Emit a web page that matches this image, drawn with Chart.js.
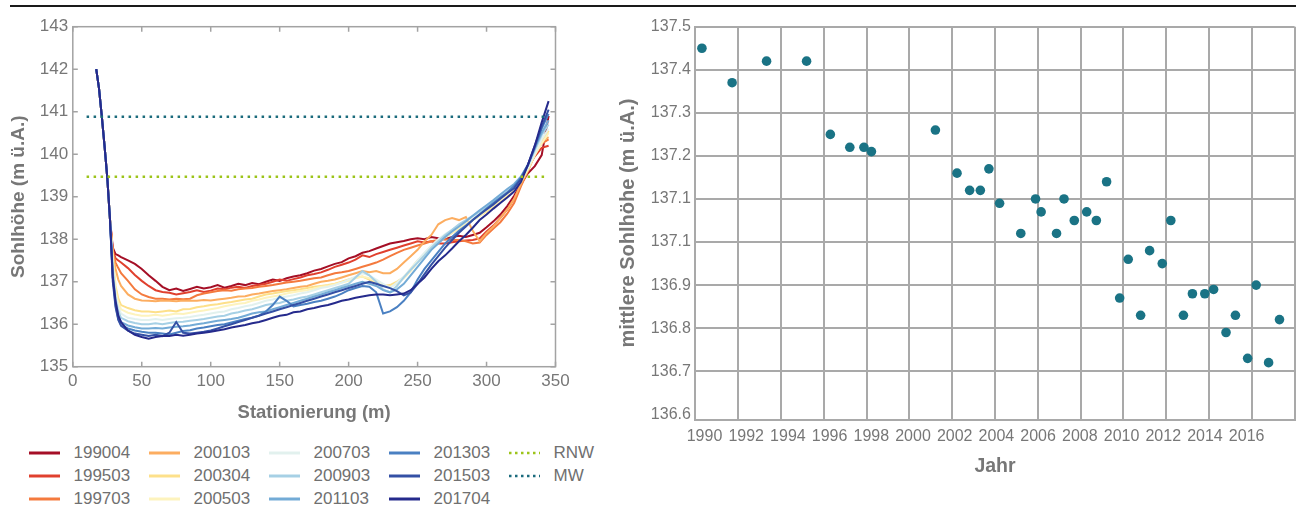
<!DOCTYPE html>
<html><head><meta charset="utf-8">
<script src="https://cdn.jsdelivr.net/npm/chart.js@4.4.1/dist/chart.umd.min.js"></script>
<style>
html,body{margin:0;padding:0;background:#fff;width:1296px;height:507px;overflow:hidden;font-family:'Liberation Sans',Arial,Helvetica,sans-serif;position:relative;}
#topline{position:absolute;left:10px;top:5px;width:1286px;height:2px;background:#1a1a1a;}
#cL{position:absolute;left:0;top:0;}
#cR{position:absolute;left:610px;top:0;}
#legend{position:absolute;left:0;top:0;width:0;height:0;}
.lt{position:absolute;font-size:17px;line-height:20px;color:#707070;white-space:nowrap;}
.ls{position:absolute;}
</style></head><body>
<div id="topline"></div>
<canvas id="cL" width="600" height="440"></canvas>
<canvas id="cR" width="690" height="490"></canvas>
<div id="legend"></div>
<script>
const TXT = '#777777';
const FAM = "'Liberation Sans', Arial, Helvetica, sans-serif";

// ---------- left chart data ----------
const stations = [17,19,21,23,25,27,29,31,33,35,
  40,45,50,55,60,65,70,75,80,85,
  90,95,100,105,110,115,120,125,130,135,
  140,145,150,155,160,165,170,175,180,185,
  190,195,200,205,210,215,220,225,230,235,
  240,245,250,255,260,265,270,275,280,285,
  290,295,300,305,310,315,320,325,330,335,
  340,345];

const profileNames = ['199004','199503','199703','200103','200304','200503','200703','200903','201103','201303','201503','201704'];
const profileColors = ['#a50f26','#e0402e','#f47a3e','#fcad60','#fde08a','#fdf3bd','#e2f1ee','#a6d0e5','#73abd6','#4a80c2','#3450a5','#252a8c'];

const s199004 = [142.0,141.55,140.9,140.2,139.45,138.45,137.8,137.65,137.62,137.58,
  137.5,137.42,137.3,137.15,137.02,136.88,136.8,136.84,136.78,136.83,
  136.88,136.84,136.87,136.92,136.86,136.9,136.95,136.92,136.97,136.94,
  137.0,137.05,137.02,137.08,137.12,137.15,137.2,137.26,137.3,137.36,
  137.42,137.46,137.55,137.6,137.68,137.72,137.78,137.84,137.9,137.93,
  137.96,138.0,138.02,138.0,138.05,138.02,138.0,138.05,138.08,138.05,
  138.1,138.15,138.28,138.42,138.58,138.78,139.02,139.3,139.55,139.72,
  139.98,140.9];
const s199503 = [142.0,141.55,140.9,140.2,139.45,138.45,137.75,137.55,137.5,137.45,
  137.32,137.16,137.02,136.9,136.8,136.76,136.74,136.7,136.73,136.76,
  136.8,136.76,136.79,136.84,136.82,136.86,136.88,136.85,136.9,136.92,
  136.95,137.0,137.05,137.02,137.06,137.1,137.15,137.18,137.22,137.28,
  137.35,137.4,137.45,137.52,137.62,137.58,137.65,137.7,137.75,137.8,
  137.85,137.9,137.95,137.92,137.95,137.9,137.9,137.93,137.95,137.97,
  137.98,138.02,138.18,138.32,138.5,138.7,138.95,139.32,139.68,139.95,
  140.15,140.2];
const s199703 = [142.0,141.55,140.9,140.2,139.45,138.45,137.7,137.45,137.32,137.2,
  137.02,136.82,136.7,136.64,136.6,136.6,136.58,136.6,136.59,136.6,
  136.68,136.72,136.75,136.78,136.8,136.79,136.82,136.84,136.85,136.88,
  136.9,136.92,136.95,136.98,137.0,137.02,137.05,137.08,137.1,137.15,
  137.2,137.22,137.25,137.3,137.35,137.4,137.45,137.52,137.6,137.68,
  137.75,137.8,137.85,137.9,137.95,137.98,138.0,137.98,137.98,137.95,
  137.9,137.92,138.1,138.25,138.4,138.6,138.85,139.25,139.6,140.0,
  140.25,140.35];
const s200103 = [142.0,141.55,140.9,140.2,139.45,138.45,137.65,137.3,137.05,136.9,
  136.7,136.6,136.56,136.55,136.54,136.56,136.55,136.54,136.56,136.55,
  136.55,136.57,136.56,136.58,136.6,136.62,136.65,136.66,136.7,136.72,
  136.75,136.78,136.8,136.82,136.85,136.88,136.9,136.95,137.0,137.02,
  137.05,137.1,137.15,137.2,137.25,137.22,137.25,137.2,137.2,137.3,
  137.45,137.6,137.75,137.95,138.1,138.35,138.45,138.5,138.45,138.52,
  138.2,137.95,138.15,138.3,138.5,138.7,138.95,139.3,139.65,140.1,
  140.3,140.4];
const s200304 = [142.0,141.55,140.9,140.2,139.45,138.45,137.6,136.9,136.6,136.45,
  136.38,136.33,136.3,136.3,136.28,136.3,136.32,136.3,136.35,136.36,
  136.4,136.42,136.45,136.47,136.5,136.52,136.55,136.58,136.6,136.65,
  136.7,136.72,136.75,136.78,136.8,136.82,136.85,136.88,136.9,136.92,
  136.95,137.0,137.05,137.1,137.12,137.05,136.95,136.9,136.92,137.0,
  137.1,137.3,137.5,137.65,137.8,137.95,138.05,138.15,138.25,138.35,
  138.45,138.55,138.65,138.78,138.9,139.02,139.15,139.35,139.62,139.98,
  140.3,140.55];
const s200503 = [142.0,141.55,140.9,140.2,139.45,138.45,137.5,136.8,136.5,136.35,
  136.27,136.23,136.2,136.2,136.22,136.2,136.22,136.25,136.24,136.27,
  136.3,136.32,136.35,136.38,136.42,136.45,136.48,136.5,136.55,136.58,
  136.62,136.65,136.68,136.72,136.75,136.78,136.8,136.84,136.88,136.9,
  136.94,136.98,137.02,137.08,137.12,137.08,137.0,136.92,136.88,136.95,
  137.08,137.25,137.45,137.62,137.78,137.92,138.05,138.15,138.25,138.35,
  138.45,138.55,138.68,138.8,138.92,139.05,139.18,139.38,139.65,139.98,
  140.25,140.5];
const s200703 = [142.0,141.55,140.9,140.2,139.45,138.45,137.4,136.7,136.4,136.25,
  136.15,136.12,136.1,136.1,136.12,136.1,136.12,136.14,136.15,136.17,
  136.2,136.22,136.25,136.28,136.3,136.35,136.38,136.42,136.45,136.5,
  136.55,136.58,136.62,136.65,136.68,136.72,136.75,136.8,136.85,136.88,
  136.92,136.98,137.05,137.12,137.2,137.15,137.05,136.95,136.85,136.98,
  137.12,137.3,137.5,137.68,137.85,138.0,138.12,138.22,138.32,138.42,
  138.52,138.62,138.72,138.84,138.96,139.08,139.2,139.4,139.68,140.02,
  140.35,140.6];
const s200903 = [142.0,141.55,140.9,140.2,139.45,138.45,137.3,136.6,136.3,136.15,
  136.07,136.03,136.0,136.0,136.02,136.0,136.03,136.05,136.06,136.08,
  136.1,136.12,136.15,136.18,136.2,136.25,136.28,136.32,136.35,136.4,
  136.45,136.48,136.5,136.55,136.58,136.62,136.65,136.7,136.75,136.8,
  136.85,136.9,136.95,137.1,137.25,137.15,137.0,136.82,136.75,136.9,
  137.1,137.28,137.45,137.62,137.8,137.95,138.1,138.22,138.35,138.45,
  138.55,138.65,138.75,138.88,139.0,139.12,139.25,139.45,139.72,140.1,
  140.45,140.7];
const s201103 = [142.0,141.55,140.9,140.2,139.45,138.45,137.2,136.5,136.2,136.05,
  135.97,135.93,135.9,135.9,135.91,135.9,135.92,135.94,135.95,135.97,
  136.0,136.02,136.05,136.08,136.1,136.12,136.15,136.2,136.25,136.28,
  136.3,136.35,136.4,136.45,136.5,136.55,136.6,136.65,136.7,136.75,
  136.8,136.85,136.9,136.95,137.0,136.95,136.9,136.8,136.75,136.82,
  136.95,137.15,137.35,137.55,137.75,137.9,138.05,138.18,138.3,138.42,
  138.55,138.68,138.8,138.92,139.05,139.18,139.3,139.48,139.75,140.15,
  140.5,140.8];
const s201303 = [142.0,141.55,140.9,140.2,139.45,138.45,137.1,136.45,136.12,135.98,
  135.9,135.85,135.82,135.8,135.8,135.78,135.76,135.8,135.84,135.86,
  135.9,135.92,135.95,135.98,136.0,136.04,136.08,136.12,136.15,136.2,
  136.3,136.45,136.65,136.55,136.42,136.45,136.48,136.52,136.55,136.6,
  136.65,136.72,136.8,136.85,136.9,136.88,136.75,136.25,136.3,136.4,
  136.55,136.75,137.05,137.3,137.5,137.7,137.9,138.05,138.2,138.32,
  138.45,138.58,138.72,138.85,138.98,139.1,139.25,139.45,139.75,140.15,
  140.6,140.95];
const s201503 = [142.0,141.55,140.9,140.2,139.45,138.45,137.0,136.4,136.1,135.96,
  135.85,135.78,135.75,135.72,135.75,135.72,135.8,136.05,135.8,135.78,
  135.8,135.82,135.85,135.9,135.95,136.0,136.05,136.1,136.15,136.2,
  136.25,136.3,136.35,136.4,136.45,136.5,136.55,136.6,136.65,136.7,
  136.75,136.8,136.85,136.9,136.95,137.0,136.95,136.9,136.85,136.78,
  136.68,136.75,136.95,137.18,137.4,137.6,137.8,137.98,138.15,138.3,
  138.45,138.58,138.7,138.82,138.95,139.08,139.2,139.42,139.75,140.2,
  140.65,141.05];
const s201704 = [142.0,141.55,140.9,140.2,139.45,138.45,137.1,136.55,136.2,136.05,
  135.85,135.75,135.7,135.66,135.7,135.72,135.72,135.75,135.73,135.75,
  135.78,135.8,135.82,135.85,135.88,135.92,135.95,135.98,136.02,136.05,
  136.1,136.15,136.2,136.22,136.28,136.3,136.35,136.38,136.42,136.45,
  136.5,136.55,136.58,136.62,136.65,136.68,136.7,136.7,136.68,136.7,
  136.72,136.8,136.95,137.1,137.3,137.48,137.62,137.78,137.95,138.1,
  138.27,138.45,138.58,138.72,138.85,138.98,139.12,139.35,139.75,140.2,
  140.75,141.25];
const profileValues = [s199004,s199503,s199703,s200103,s200304,s200503,s200703,s200903,s201103,s201303,s201503,s201704];

const levelNames = ['RNW','MW'];
const levelValues = [139.47, 140.88];
const levelColors = ['#9dc41a','#1b6b7d'];
const levelStations = [10, 342];

const xTicksL = [0,50,100,150,200,250,300,350];
const yTicksL = [135,136,137,138,139,140,141,142,143];

// ---------- right chart data ----------
const years = [1989.88,1991.29,1992.90,1994.77,1995.88,1996.79,1997.45,1997.80,2000.79,2001.80,
  2002.39,2002.89,2003.29,2003.79,2004.78,2005.47,2005.73,2006.45,2006.80,2007.28,
  2007.86,2008.31,2008.79,2009.40,2009.80,2010.38,2010.80,2011.39,2011.79,2012.38,
  2012.80,2013.38,2013.79,2014.37,2014.81,2015.38,2015.78,2016.36,2016.87];
const meanLevels = [137.45,137.37,137.42,137.42,137.25,137.22,137.22,137.21,137.26,137.16,
  137.12,137.12,137.17,137.09,137.02,137.10,137.07,137.02,137.10,137.05,
  137.07,137.05,137.14,136.87,136.96,136.83,136.98,136.95,137.05,136.83,
  136.88,136.88,136.89,136.79,136.83,136.73,136.90,136.72,136.82];
const xGridStart = 1989.575;   // first vertical gridline
const xGridStep = 2;
const xGridCount = 15;
const xTickYears = [1990,1992,1994,1996,1998,2000,2002,2004,2006,2008,2010,2012,2014,2016];
const xLabelRange = [1989.564, 2018.30]; // label axis range (labels sit slightly tighter than the grid)
const yTickValues = [136.6,136.7,136.8,136.9,137.0,137.1,137.2,137.3,137.4,137.5];
const yTickLabels = ['136.6','136.7','136.8','136.9','137.1','137.1','137.2','137.3','137.4','137.5'];

// exact plot-area targets, in canvas coordinates
function fitArea(chart, target){
  const a = chart.chartArea, p = chart.options.layout.padding;
  p.right += (a.right - target.right);
  p.left  += (target.left - a.left);
  chart.update('none');
}

// ---------- left chart ----------
const dsL = [];
levelNames.forEach((n,i)=>{
  dsL.push({label:n, data: levelStations.map(s=>({x:s, y:levelValues[i]})),
    borderColor: levelColors[i], borderWidth: 2.5, borderDash:[2.5,4.5], pointRadius:0, order: i});
});
profileNames.forEach((n,i)=>{
  dsL.push({label:n, data: stations.map((s,j)=>({x:s, y:profileValues[i][j]})),
    borderColor: profileColors[i], borderWidth: 2, pointRadius:0, tension:0, order: 2 + profileNames.length - i});
});

const boxPlugin = {
  id:'box',
  afterDatasetsDraw(chart){
    const {ctx, chartArea:a, scales:{x,y}} = chart;
    ctx.save();
    ctx.strokeStyle = '#a3a3a3'; ctx.lineWidth = 1.5;
    ctx.strokeRect(a.left, a.top, a.right-a.left, a.bottom-a.top);
    ctx.beginPath();
    x.ticks.forEach(t=>{ const p = x.getPixelForValue(t.value);
      ctx.moveTo(p,a.bottom); ctx.lineTo(p,a.bottom-5); ctx.moveTo(p,a.top); ctx.lineTo(p,a.top+5); });
    y.ticks.forEach(t=>{ const p = y.getPixelForValue(t.value);
      ctx.moveTo(a.left,p); ctx.lineTo(a.left+5,p); ctx.moveTo(a.right,p); ctx.lineTo(a.right-5,p); });
    ctx.stroke(); ctx.restore();
  }
};

const chartL = new Chart(document.getElementById('cL'), {
  type:'line',
  data:{datasets: dsL},
  options:{
    responsive:false, animation:false, events:[],
    layout:{padding:{top:26.7, right:44.5, bottom:0, left:0}},
    plugins:{legend:{display:false}, tooltip:{enabled:false}},
    scales:{
      x:{type:'linear', min:0, max:350,
        afterBuildTicks: s=>{ s.ticks = xTicksL.map(v=>({value:v})); },
        ticks:{autoSkip:false, padding:4.8, color:TXT, font:{family:FAM, size:17}},
        grid:{display:false, drawTicks:false}, border:{display:false},
        title:{display:true, text:'Stationierung (m)', color:TXT, font:{family:FAM, size:18.5, weight:'bold'}, padding:{top:0, bottom:15.9}},
        afterFit: s=>{ s.height = 73.3; }
      },
      y:{type:'linear', min:135, max:143,
        afterBuildTicks: s=>{ s.ticks = yTicksL.map(v=>({value:v})); },
        ticks:{autoSkip:false, padding:4.6, color:TXT, font:{family:FAM, size:17}},
        grid:{display:false, drawTicks:false}, border:{display:false},
        title:{display:true, text:'Sohlhöhe (m ü.A.)', color:TXT, font:{family:FAM, size:19, weight:'bold'}, padding:{top:7.6, bottom:0}},
        afterFit: s=>{ s.width = 72.8; }
      }
    }
  },
  plugins:[boxPlugin]
});
fitArea(chartL, {left:72.8, right:555.5});

// ---------- right chart ----------
const GRID = '#a9a9a9';
const gridTicks = [];
for (let k = 0; k < xGridCount; k++) gridTicks.push({value: xGridStart + k*xGridStep});
const chartR = new Chart(document.getElementById('cR'), {
  type:'scatter',
  data:{datasets:[{label:'mittlere Sohlhöhe', xAxisID:'x', yAxisID:'y',
    data: years.map((x,i)=>({x, y:meanLevels[i]})),
    backgroundColor:'#1a7385', borderWidth:0, pointRadius:4.8, pointHoverRadius:4.8}]},
  options:{
    responsive:false, animation:false, events:[],
    layout:{padding:{top:26.7, right:5.4, bottom:0, left:0}},
    plugins:{legend:{display:false}, tooltip:{enabled:false}},
    scales:{
      x:{type:'linear', position:'bottom', weight:0,
        min: xGridStart, max: xGridStart + (xGridCount-1)*xGridStep,
        afterBuildTicks: s=>{ s.ticks = gridTicks.map(t=>({value:t.value})); },
        ticks:{display:false, autoSkip:false},
        grid:{color:GRID, lineWidth:2, drawTicks:false},
        border:{color:GRID, width:2},
        title:{display:false},
        afterFit: s=>{ s.height = 0; }
      },
      xl:{type:'linear', position:'bottom', weight:1,
        min: xLabelRange[0], max: xLabelRange[1],
        afterBuildTicks: s=>{ s.ticks = xTickYears.map(v=>({value:v})); },
        ticks:{autoSkip:false, maxRotation:0, padding:7, color:TXT, font:{family:FAM, size:16},
          callback:(v,i)=> String(xTickYears[i])},
        grid:{display:false, drawTicks:false},
        border:{display:false},
        title:{display:true, text:'Jahr', color:TXT, font:{family:FAM, size:19.5, weight:'bold'}, padding:{top:0, bottom:11.6}},
        afterFit: s=>{ s.height = 490 - 419.5; }
      },
      y:{type:'linear', min:136.588, max:137.5,
        afterBuildTicks: s=>{ s.ticks = yTickValues.map(v=>({value:v})); },
        ticks:{autoSkip:false, padding:4.5, color:TXT, font:{family:FAM, size:16},
          callback:(v,i)=> yTickLabels[i]},
        grid:{color: c => (c.index === 0 ? 'rgba(0,0,0,0)' : GRID), lineWidth:2, drawTicks:false},
        border:{color:GRID, width:2},
        title:{display:true, text:'mittlere Sohlhöhe (m ü.A.)', color:TXT, font:{family:FAM, size:20, weight:'bold'}, padding:{top:6.6, bottom:0}},
        afterFit: s=>{ s.width = 85.4; }
      }
    }
  }
});
fitArea(chartR, {left:85.4, right:684.6});

// ---------- legend (HTML, column-major, 3 rows) ----------
const legendItems = profileNames.map((n,i)=>({name:n, color:profileColors[i], dotted:false}))
  .concat(levelNames.map((n,i)=>({name:n, color:levelColors[i], dotted:true})));
const leg = document.getElementById('legend');
const rowY = [453, 476, 499];
legendItems.forEach((it, k)=>{
  const col = Math.floor(k/3), row = k%3;
  const lx = 28.6 + 120.2*col, tx = 73.5 + 120*col, cy = rowY[row];
  const svgNS = 'http://www.w3.org/2000/svg';
  const svg = document.createElementNS(svgNS,'svg');
  svg.setAttribute('class','ls'); svg.setAttribute('width','32'); svg.setAttribute('height','6');
  svg.style.left = lx+'px'; svg.style.top = (cy-3)+'px';
  const ln = document.createElementNS(svgNS,'line');
  ln.setAttribute('x1','0'); ln.setAttribute('x2','31'); ln.setAttribute('y1','3'); ln.setAttribute('y2','3');
  ln.setAttribute('stroke', it.color); ln.setAttribute('stroke-width', it.dotted ? '2.5' : '3');
  if (it.dotted) ln.setAttribute('stroke-dasharray','2.5 3.5');
  svg.appendChild(ln); leg.appendChild(svg);
  const t = document.createElement('div');
  t.className = 'lt'; t.textContent = it.name;
  t.style.left = tx+'px'; t.style.top = (cy-10)+'px';
  leg.appendChild(t);
});
</script>
</body></html>
